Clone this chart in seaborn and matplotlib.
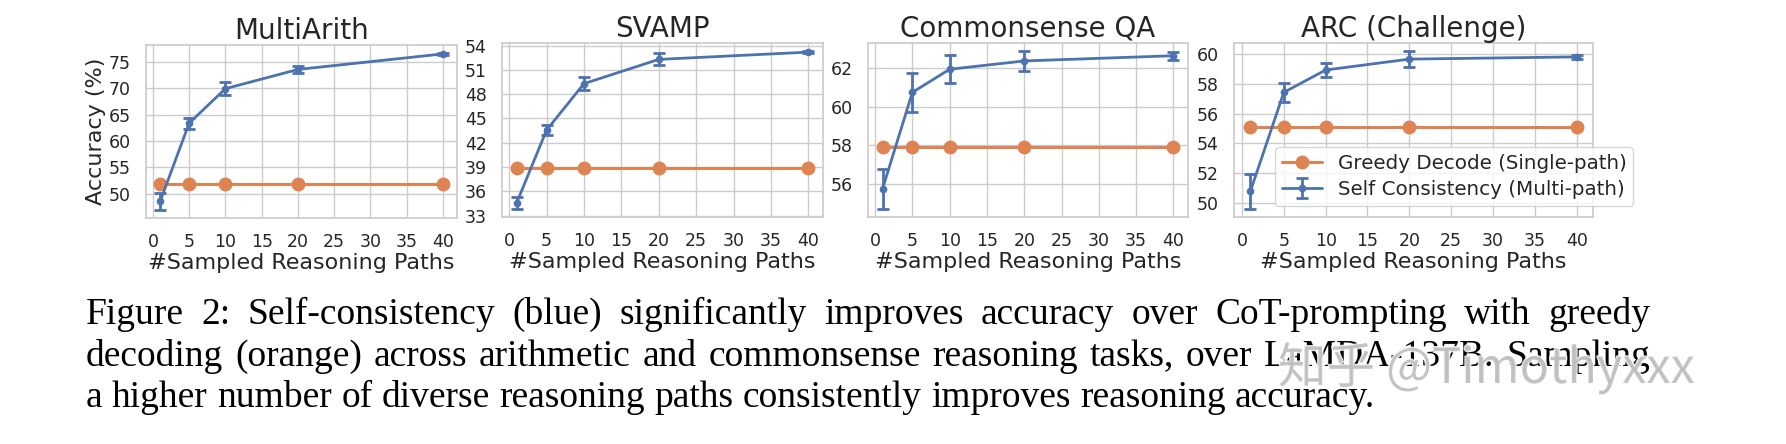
import matplotlib
matplotlib.use("Agg")
import matplotlib.pyplot as plt
import matplotlib.patheffects as pe
import seaborn as sns

# data (LaMDA-137B, accuracy %)
paths = [1, 5, 10, 20, 40]
tasks = ["MultiArith", "SVAMP", "Commonsense QA", "ARC (Challenge)"]

greedy_multiarith = [51.8, 51.8, 51.8, 51.8, 51.8]
sc_multiarith = [48.5, 63.35, 69.9, 73.55, 76.5]
sc_err_multiarith = [1.65, 1.05, 1.2, 0.75, 0.2]

greedy_svamp = [38.9, 38.9, 38.9, 38.9, 38.9]
sc_svamp = [34.55, 43.55, 49.3, 52.3, 53.2]
sc_err_svamp = [0.75, 0.65, 0.8, 0.75, 0.15]

greedy_csqa = [57.9, 57.9, 57.9, 57.9, 57.9]
sc_csqa = [55.75, 60.75, 61.95, 62.38, 62.65]
sc_err_csqa = [1.05, 1.0, 0.73, 0.52, 0.2]

greedy_arc = [55.1, 55.1, 55.1, 55.1, 55.1]
sc_arc = [50.78, 57.42, 58.92, 59.65, 59.8]
sc_err_arc = [1.18, 0.62, 0.48, 0.55, 0.12]

xticks = [0, 5, 10, 15, 20, 25, 30, 35, 40]
yticks_multiarith = [50, 55, 60, 65, 70, 75]
yticks_svamp = [33, 36, 39, 42, 45, 48, 51, 54]
yticks_csqa = [56, 58, 60, 62]
yticks_arc = [50, 52, 54, 56, 58, 60]

greedy_label = "Greedy Decode (Single-path)"
sc_label = "Self Consistency (Multi-path)"

caption = [
    "Figure 2: Self-consistency (blue) significantly improves accuracy over CoT-prompting with greedy",
    "decoding (orange) across arithmetic and commonsense reasoning tasks, over LaMDA-137B. Sampling",
    "a higher number of diverse reasoning paths consistently improves reasoning accuracy.",
]
watermark = "知乎 @Timothyxxx"

sns.set_theme(style="whitegrid")
plt.rcParams["font.family"] = ["DejaVu Sans", "Noto Sans CJK SC"]

W, H = 1786, 444
fig = plt.figure(figsize=(W / 100, H / 100), dpi=100)


def px_rect(left, right, top, bottom):
    return [left / W, 1 - bottom / H, (right - left) / W, (bottom - top) / H]


rects = [
    px_rect(146, 457, 45, 218),
    px_rect(502, 823, 43, 217),
    px_rect(868, 1188, 43, 217),
    px_rect(1234, 1593, 43, 217),
]
greedy_all = [greedy_multiarith, greedy_svamp, greedy_csqa, greedy_arc]
sc_all = [sc_multiarith, sc_svamp, sc_csqa, sc_arc]
err_all = [sc_err_multiarith, sc_err_svamp, sc_err_csqa, sc_err_arc]
yticks_all = [yticks_multiarith, yticks_svamp, yticks_csqa, yticks_arc]

blue, orange = sns.color_palette("deep")[0], sns.color_palette("deep")[1]

axes = []
for i, task in enumerate(tasks):
    ax = fig.add_axes(rects[i])
    sns.lineplot(ax=ax, x=paths, y=greedy_all[i], color=orange, marker="o",
                 markersize=10, markeredgewidth=0, linewidth=2.2, label=greedy_label)
    ax.errorbar(paths, sc_all[i], yerr=err_all[i], color=blue, marker="o",
                markersize=4.5, linewidth=2, elinewidth=2, capsize=4.6, capthick=2,
                label=sc_label)
    ax.set_xticks(xticks)
    ax.set_yticks(yticks_all[i])
    ax.tick_params(labelsize=12.5, pad=5)
    ax.set_title(task, fontsize=20, pad=4.5)
    ax.set_xlabel("#Sampled Reasoning Paths", fontsize=16, labelpad=1)
    if i == 0:
        ax.set_ylabel("Accuracy (%)", fontsize=16, labelpad=2)
    if ax.get_legend():
        ax.get_legend().remove()
    axes.append(ax)

axes[-1].legend(loc="upper left", bbox_to_anchor=(1275 / W, 1 - 147 / H),
                bbox_transform=fig.transFigure, borderaxespad=0, fontsize=14.3,
                handlelength=2.0, labelspacing=0.35, borderpad=0.35, handletextpad=0.8)

# caption, justified like the paper
renderer = fig.canvas.get_renderer()
cap_size = 27
space_px = 0.25 * cap_size * 100 / 72
left_px, right_px = 86, 1650
baselines = [324, 366, 407]
for n, line in enumerate(caption):
    words = line.split(" ")
    texts = [fig.text(0, 1 - baselines[n] / H, w, fontsize=cap_size,
                      family="Liberation Serif", color="black", va="baseline")
             for w in words]
    widths = [t.get_window_extent(renderer).width for t in texts]
    if n < len(caption) - 1:
        gap = (right_px - left_px - sum(widths)) / (len(words) - 1)
    else:
        gap = space_px
    x = left_px
    for t, w in zip(texts, widths):
        t.set_x(x / W)
        x += w + gap

# site watermark lying over the caption
fig.text(1278 / W, 1 - 383 / H, watermark, fontsize=35, color="#bdbdbd", alpha=0.85,
         family=["Noto Sans CJK SC", "DejaVu Sans"], va="baseline",
         path_effects=[pe.withStroke(linewidth=2, foreground="white")])

fig.savefig("out.png", dpi=100)
